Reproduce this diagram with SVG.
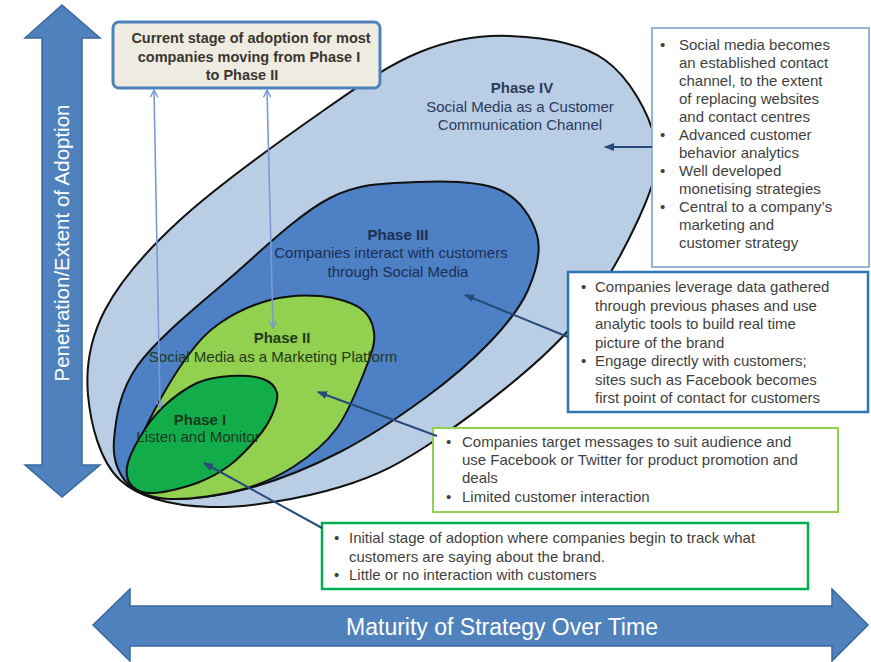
<svg xmlns="http://www.w3.org/2000/svg" width="871" height="662" viewBox="0 0 871 662">
<defs>
<style>
.axis{fill:#4f81bd;stroke:#3b67a0;stroke-width:1.5}
.axt{font-family:"Liberation Sans",Arial,sans-serif;fill:#ffffff}
.ph{stroke:#111;stroke-width:2;stroke-linejoin:round}
.pt{font-family:"Liberation Sans",Arial,sans-serif;font-size:15px;text-anchor:middle}
.pb{font-weight:bold}
.bx{fill:#ffffff}
.bt{font-family:"Liberation Sans",Arial,sans-serif;font-size:15px;fill:#3f3f3f}
.con{stroke:#274a7a;stroke-width:2;fill:none}
.lb{stroke:#7b9bd0;stroke-width:1.6;fill:none}
</style>
<marker id="ah" viewBox="0 0 10 10" refX="9" refY="5" markerWidth="10" markerHeight="10" markerUnits="userSpaceOnUse" orient="auto">
<path d="M0,1 L10,5 L0,9 Z" fill="#274a7a"/>
</marker>
<marker id="av" viewBox="0 0 10 10" refX="9" refY="5" markerWidth="9" markerHeight="9" markerUnits="userSpaceOnUse" orient="auto-start-reverse">
<path d="M1,1 L9,5 L1,9" fill="none" stroke="#7b9bd0" stroke-width="1.6"/>
</marker>
</defs>
<rect width="871" height="662" fill="#ffffff"/>

<g id="axis-vertical">
<polygon class="axis" points="62,5 100,38 82,38 82,465 100,465 62,497 25,465 42,465 42,38 25,38"/>
<text class="axt" font-size="20.5" text-anchor="middle" transform="translate(69,243) rotate(-90)">Penetration/Extent of Adoption</text>
</g>

<g id="axis-horizontal">
<polygon class="axis" points="93,625 130,589 130,606 832,606 832,589 868,625 832,661 832,646 130,646 130,661"/>
<text class="axt" font-size="23" text-anchor="middle" x="502" y="635">Maturity of Strategy Over Time</text>
</g>

<g id="phase4">
<path class="ph" fill="#b9cde5" d="M88,395 C85.5,366.7 89.7,339.2 105,310 C120.3,280.8 144.2,252.8 180,220 C215.8,187.2 280,141 320,113 C360,85 388.3,64.8 420,52 C451.7,39.2 479.2,34.7 510,36 C540.8,37.3 580.8,42.7 605,60 C629.2,77.3 649.5,113.3 655,140 C660.5,166.7 652.7,188 638,220 C623.3,252 600,295.8 567,332 C534,368.2 477.8,411.2 440,437 C402.2,462.8 378.3,475.3 340,487 C301.7,498.7 246.7,508.2 210,507 C173.3,505.8 140.3,498.7 120,480 C99.7,461.3 90.5,423.3 88,395 Z"/>
</g>
<g id="phase3">
<path class="ph" fill="#4d80c4" d="M114,440 C115.7,420.2 118.7,392 138,365 C157.3,338 198,305.8 230,278 C262,250.2 298.8,214 330,198 C361.2,182 388.7,183.3 417,182 C445.3,180.7 480,181.2 500,190 C520,198.8 532.3,218.3 537,235 C541.7,251.7 535.8,272.2 528,290 C520.2,307.8 507.2,324 490,342 C472.8,360 450,379.7 425,398 C400,416.3 369.2,437 340,452 C310.8,467 278.3,480.2 250,488 C221.7,495.8 190.3,499.7 170,499 C149.7,498.3 137.3,493.8 128,484 C118.7,474.2 112.3,459.8 114,440 Z"/>
</g>
<g id="phase2">
<path class="ph" fill="#92d050" d="M130,467 C132.5,454.2 143.5,431.3 153,413 C162.5,394.7 175.8,372 187,357 C198.2,342 206.2,332.5 220,323 C233.8,313.5 253.3,304.5 270,300 C286.7,295.5 305,294.7 320,296 C335,297.3 351,302 360,308 C369,314 372.8,322.5 374,332 C375.2,341.5 373.2,349 367,365 C360.8,381 349.3,411 337,428 C324.7,445 309.2,456.7 293,467 C276.8,477.3 259.7,484.7 240,490 C220.3,495.3 192,499 175,499 C158,499 145.5,495.3 138,490 C130.5,484.7 127.5,479.8 130,467 Z"/>
</g>
<g id="phase1">
<path class="ph" fill="#12ad4a" d="M127,467 C128.2,458.7 134,447 140,437 C146,427 153.5,416 163,407 C172.5,398 185.8,388.2 197,383 C208.2,377.8 219,376.7 230,376 C241,375.3 255.2,376.2 263,379 C270.8,381.8 275.5,387 277,393 C278.5,399 275.2,407.7 272,415 C268.8,422.3 265,428.7 258,437 C251,445.3 240.2,457.3 230,465 C219.8,472.7 209.5,478.3 197,483 C184.5,487.7 165.7,492.3 155,493 C144.3,493.7 137.7,491.3 133,487 C128.3,482.7 125.8,475.3 127,467 Z"/>
</g>

<g id="phase4-label" fill="#2b3b5c">
<text class="pt pb" x="522" y="93">Phase IV</text>
<text class="pt" x="520" y="112">Social Media as a Customer</text>
<text class="pt" x="520" y="130">Communication Channel</text>
</g>
<g id="phase3-label" fill="#1c2f55">
<text class="pt pb" x="398" y="240">Phase III</text>
<text class="pt" x="391" y="258">Companies interact with customers</text>
<text class="pt" x="398" y="277">through Social Media</text>
</g>
<g id="phase2-label" fill="#1f3a1a">
<text class="pt pb" x="282" y="343">Phase II</text>
<text class="pt" x="273" y="362">Social Media as a Marketing Platform</text>
</g>
<g id="phase1-label" fill="#173a1e">
<text class="pt pb" x="200" y="425">Phase I</text>
<text class="pt" x="198" y="442">Listen and Monitor</text>
</g>

<g id="current-stage">
<rect x="113" y="22" width="267" height="66" rx="6" fill="#eeece1" stroke="#4f81bd" stroke-width="3"/>
<g font-family="'Liberation Sans',Arial,sans-serif" font-size="14.5" font-weight="bold" fill="#3a3530" text-anchor="middle">
<text x="251" y="43">Current stage of adoption for most</text>
<text x="249" y="62">companies moving from Phase I</text>
<text x="242" y="80">to Phase II</text>
</g>
</g>

<g id="box-phase4">
<rect class="bx" x="652" y="28" width="217" height="239" stroke="#95b3d7" stroke-width="2"/>
<g class="bt">
<text x="660" y="50">•</text><text x="679" y="50">Social media becomes</text>
<text x="679" y="68">an established contact</text>
<text x="679" y="86">channel, to the extent</text>
<text x="679" y="104">of replacing websites</text>
<text x="679" y="122">and contact centres</text>
<text x="660" y="140">•</text><text x="679" y="140">Advanced customer</text>
<text x="679" y="158">behavior analytics</text>
<text x="660" y="176">•</text><text x="679" y="176">Well developed</text>
<text x="679" y="194">monetising strategies</text>
<text x="660" y="212">•</text><text x="679" y="212">Central to a company’s</text>
<text x="679" y="230">marketing and</text>
<text x="679" y="248">customer strategy</text>
</g>
</g>

<g id="box-phase3">
<rect class="bx" x="568" y="272" width="300" height="140" stroke="#2e75b6" stroke-width="2.5"/>
<g class="bt">
<text x="581" y="292">•</text><text x="595" y="292">Companies leverage data gathered</text>
<text x="595" y="310.5">through previous phases and use</text>
<text x="595" y="329">analytic tools to build real time</text>
<text x="595" y="347.5">picture of the brand</text>
<text x="581" y="366">•</text><text x="595" y="366">Engage directly with customers;</text>
<text x="595" y="384.5">sites such as Facebook becomes</text>
<text x="595" y="403">first point of contact for customers</text>
</g>
</g>

<g id="box-phase2">
<rect class="bx" x="433" y="428" width="405" height="84" stroke="#92d050" stroke-width="2"/>
<g class="bt">
<text x="446" y="447">•</text><text x="462" y="447">Companies target messages to suit audience  and</text>
<text x="462" y="465">use Facebook or Twitter for product promotion and</text>
<text x="462" y="483">deals</text>
<text x="446" y="502">•</text><text x="462" y="502">Limited customer interaction</text>
</g>
</g>

<g id="box-phase1">
<rect class="bx" x="322" y="523" width="486" height="66" stroke="#00b050" stroke-width="2.5"/>
<g class="bt">
<text x="334" y="543">•</text><text x="349" y="543">Initial stage of adoption where companies begin to track what</text>
<text x="349" y="562">customers are saying about the brand.</text>
<text x="334" y="580">•</text><text x="349" y="580">Little or no interaction with customers</text>
</g>
</g>

<g id="connectors">
<line class="lb" x1="154" y1="90" x2="160" y2="408" marker-start="url(#av)" marker-end="url(#av)"/>
<line class="lb" x1="267" y1="90" x2="273" y2="328" marker-start="url(#av)" marker-end="url(#av)"/>
<line class="con" x1="652" y1="147" x2="605" y2="147" marker-end="url(#ah)"/>
<line class="con" x1="568" y1="337" x2="465" y2="295" marker-end="url(#ah)"/>
<line class="con" x1="437" y1="436" x2="318" y2="392" marker-end="url(#ah)"/>
<line class="con" x1="322" y1="528" x2="204" y2="463" marker-end="url(#ah)"/>
</g>
</svg>
